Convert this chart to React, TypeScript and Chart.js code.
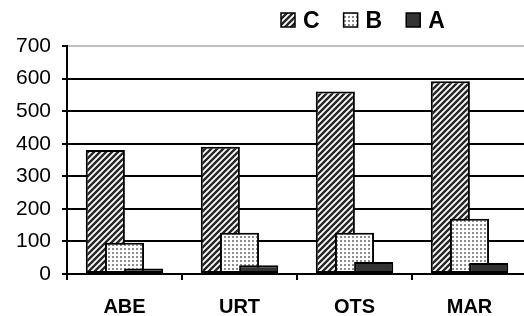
import React, { useEffect, useRef } from 'react';
import { Chart, registerables } from 'chart.js';

Chart.register(...registerables);

const categories = ['ABE', 'URT', 'OTS', 'MAR'];
const seriesLabels = ['C', 'B', 'A'];
const valuesC = [381, 391, 560, 592];
const valuesB = [96, 127, 127, 170];
const valuesA = [17, 27, 37, 34];
const yMin = 0;
const yMax = 700;
const yStep = 100;

const FONT = '"Liberation Sans", Arial, Helvetica, sans-serif';

function makePattern(kind: string): CanvasPattern | string {
  const c = document.createElement('canvas');
  const ctx = c.getContext('2d');
  if (!ctx) return '#888';
  if (kind === 'hatch') {
    const s = 6;
    c.width = s;
    c.height = s;
    ctx.fillStyle = '#ffffff';
    ctx.fillRect(0, 0, s, s);
    ctx.strokeStyle = '#262626';
    ctx.lineWidth = 2.4;
    ctx.beginPath();
    ctx.moveTo(-1, s + 1);
    ctx.lineTo(s + 1, -1);
    ctx.moveTo(-1, 1);
    ctx.lineTo(1, -1);
    ctx.moveTo(s - 1, s + 1);
    ctx.lineTo(s + 1, s - 1);
    ctx.stroke();
  } else if (kind === 'dots') {
    const s = 4;
    c.width = s;
    c.height = s;
    ctx.fillStyle = '#ffffff';
    ctx.fillRect(0, 0, s, s);
    ctx.fillStyle = '#8c8c8c';
    ctx.fillRect(0, 0, 2, 2);
  } else {
    return '#333333';
  }
  const p = ctx.createPattern(c, 'repeat');
  return p || '#888';
}

const drawOrderPlugin = {
  id: 'drawOrder',
  beforeDatasetsDraw(chart: any) {
    for (let i = 0; i < chart.data.datasets.length; i++) {
      const meta = chart.getDatasetMeta(i);
      if (!meta.hidden) meta.controller.draw();
    }
    return false;
  },
};

const legendPlugin = {
  id: 'customLegend',
  afterDraw(chart: any) {
    const ctx = chart.ctx;
    ctx.save();
    ctx.font = `bold 23px ${FONT}`;
    ctx.textBaseline = 'middle';
    ctx.textAlign = 'left';
    let x = 281;
    const y = 13;
    const box = 14;
    chart.data.datasets.forEach((ds: any) => {
      ctx.fillStyle = ds.backgroundColor;
      ctx.fillRect(x, y, box, box);
      ctx.lineWidth = 1.5;
      ctx.strokeStyle = '#000';
      ctx.strokeRect(x, y, box, box);
      ctx.fillStyle = '#000';
      ctx.fillText(ds.label, x + box + 8, y + box / 2 + 2);
      x += box + 8 + ctx.measureText(ds.label).width + 24;
    });
    ctx.restore();
  },
};

export default function App() {
  const ref = useRef<HTMLCanvasElement>(null);

  useEffect(() => {
    if (!ref.current) return;
    const fills = [makePattern('hatch'), makePattern('dots'), makePattern('solid')];
    const seriesValues = [valuesC, valuesB, valuesA];
    const chart = new Chart(ref.current, {
      type: 'bar',
      data: {
        labels: categories,
        datasets: seriesLabels.map((lab, i) => ({
          label: lab,
          data: seriesValues[i],
          backgroundColor: fills[i] as any,
          borderColor: '#000',
          borderWidth: 2,
          borderSkipped: false,
          categoryPercentage: 0.5,
          barPercentage: 2.04,
        })),
      },
      options: {
        responsive: false,
        animation: false,
        devicePixelRatio: 1,
        layout: { padding: { top: 46, left: 0, right: 13, bottom: 0 } },
        plugins: {
          legend: { display: false },
          tooltip: { enabled: false },
        },
        scales: {
          x: {
            grid: {
              display: true,
              drawOnChartArea: false,
              drawTicks: true,
              tickLength: 6,
              offset: true,
              color: '#000',
              lineWidth: 2,
            },
            border: { display: true, color: '#000', width: 2 },
            ticks: {
              color: '#000',
              padding: 15,
              font: { family: FONT, size: 20, weight: 'bold' },
            },
            afterFit: (s: any) => {
              s.height = 42;
            },
          },
          y: {
            min: yMin,
            max: yMax,
            ticks: {
              stepSize: yStep,
              color: '#000',
              padding: 11,
              font: { family: FONT, size: 21 },
            },
            grid: {
              color: (c: any) => (c.tick && c.tick.value === yMax ? '#c0c0c0' : '#000'),
              tickColor: '#000',
              lineWidth: 2,
              tickLength: 5,
            },
            border: { display: true, color: '#000', width: 2 },
            afterFit: (s: any) => {
              s.width = 67;
            },
          },
        },
      } as any,
      plugins: [drawOrderPlugin, legendPlugin],
    });
    return () => chart.destroy();
  }, []);

  return (
    <div
      style={{
        position: 'fixed',
        left: 0,
        top: 0,
        width: 524,
        height: 316,
        overflow: 'hidden',
        background: '#fff',
      }}
    >
      <canvas ref={ref} width={540} height={316} style={{ display: 'block' }} />
    </div>
  );
}
